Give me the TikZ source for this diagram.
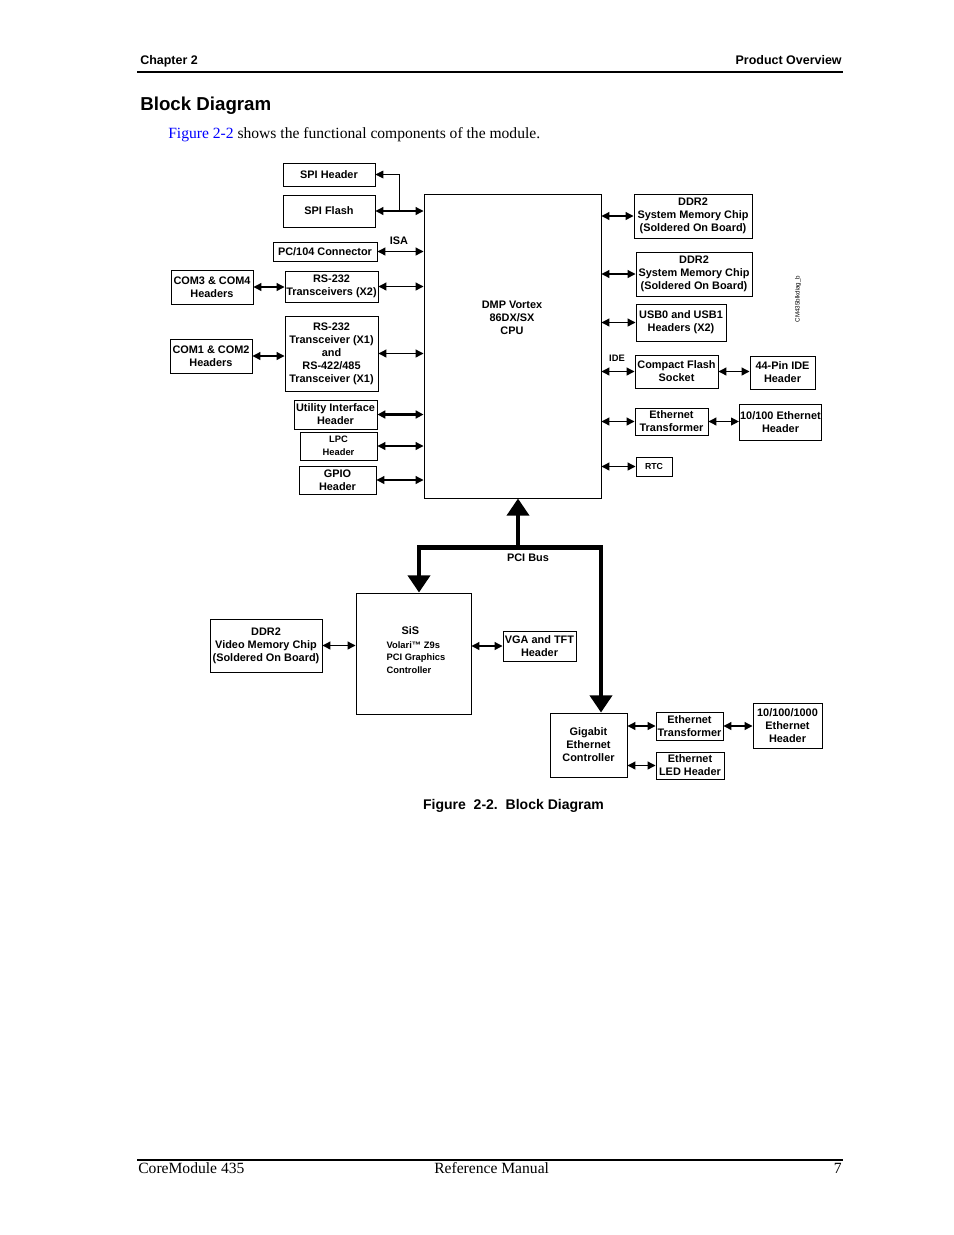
\documentclass[tikz,border=0pt]{standalone}
\usepackage{fontspec}
\setmainfont{Liberation Serif}
\setsansfont{Liberation Sans}
\usetikzlibrary{arrows.meta}
\newdimen\px \px=0.6415pt
\tikzset{
  blk/.style={draw, line width=0.6pt, align=center, inner sep=0.5pt,
    font=\sffamily\bfseries\fontsize{7}{8.3}\selectfont},
  sz/.style 2 args={minimum width=#1\px, minimum height=#2\px},
  lbl/.style={align=center, inner sep=0pt,
    font=\sffamily\bfseries\fontsize{7}{8.3}\selectfont},
  small/.style={font=\sffamily\bfseries\fontsize{6}{8}\selectfont},
  bi/.style={line width=0.75pt,
    {Triangle[length=5pt,width=5pt]}-{Triangle[length=5pt,width=5pt]}},
  pci/.style={line width=3.2pt},
  pcitip/.style={{Triangle[length=11pt,width=14pt]}-{Triangle[length=11pt,width=14pt]}},
  page/.style={inner sep=0pt, font=\fontsize{10}{12}\selectfont},
  hdr/.style={inner sep=0pt, font=\sffamily\bfseries\fontsize{8}{10}\selectfont},
}
\begin{document}
\begin{tikzpicture}[x=0.6415pt, y=-0.6415pt]
\useasboundingbox (0,0) rectangle (954,1235);

\node[hdr, anchor=base west] (chap) at (140,64) {Chapter 2};
\node[hdr, anchor=base east] (part) at (842,64) {Product Overview};
\draw[line width=0.9pt] (137,72) -- (843,72);
\node[inner sep=0pt, anchor=base west, font=\sffamily\bfseries\fontsize{12}{14}\selectfont]
  (title) at (140,110) {Block Diagram};
\node[page, anchor=base west] (intro) at (168,138.5)
  {\textcolor{blue}{Figure 2-2} shows the functional components of the module.};

\node[blk, sz={92}{23}] (spih) at (329,174.5) {SPI Header};
\node[blk, sz={92}{32}] (flash) at (329,211) {SPI Flash};
\node[blk, sz={104}{19}] (pc104) at (325,251.5) {PC/104 Connector};
\node[blk, sz={82}{34}] (com34) at (212,287) {COM3 \& COM4\\Headers};
\node[blk, sz={93}{31}] (rsa) at (331.5,286.5) {RS-232\\Transceivers (X2)};
\node[blk, sz={82}{34}] (com12) at (211,356) {COM1 \& COM2\\Headers};
\node[blk, sz={93}{75}] (rsb) at (331.5,353.5)
  {RS-232\\Transceiver (X1)\\and\\RS-422/485\\Transceiver (X1)};
\node[blk, sz={83}{29}] (util) at (335.5,414.5) {Utility Interface\\Header};
\node[blk, small, sz={77}{28}] (lpc) at (338.5,446) {LPC\\Header};
\node[blk, sz={77}{28}] (gpio) at (337.5,480) {GPIO\\Header};

\node[blk, sz={177}{304}] (cpu) at (512.5,346) {};
\node[lbl] (cputxt) at (512,318) {DMP Vortex\\86DX/SX\\CPU};

\node[blk, sz={118}{44}] (ddra) at (693,216)
  {DDR2\\System Memory Chip\\(Soldered On Board)};
\node[blk, sz={116}{44}] (ddrb) at (694,274)
  {DDR2\\System Memory Chip\\(Soldered On Board)};
\node[blk, sz={90}{37}] (usb) at (681,322.5) {USB0 and USB1\\Headers (X2)};
\node[blk, sz={83}{33}] (cf) at (676.5,371.5) {Compact Flash\\Socket};
\node[blk, sz={65}{33}] (ide) at (782.5,372.5) {44-Pin IDE\\Header};
\node[blk, sz={73}{27}] (etha) at (671.5,421.5) {Ethernet\\Transformer};
\node[blk, sz={81}{36}] (ethh) at (780.5,422) {10/100 Ethernet\\Header};
\node[blk, sz={36}{19}, font=\sffamily\bfseries\fontsize{5.6}{7}\selectfont]
  (rtc) at (654,466.5) {RTC};
\node[inner sep=0pt, rotate=90, font=\sffamily\fontsize{4}{5}\selectfont]
  (fig) at (798,299) {CM435blkdiag\_b};

\node[blk, sz={115}{121}] (sis) at (413.5,653.5) {};
\node[lbl, small, align=left] (sistxt) at (416,650)
  {\hspace*{9.6pt}{\fontsize{7}{8}\selectfont SiS}\\[1pt]Volari™ Z9s\\PCI Graphics\\Controller};
\node[blk, sz={112}{53}] (vmem) at (266,645.5)
  {DDR2\\Video Memory Chip\\(Soldered On Board)};
\node[blk, sz={73}{30}] (vga) at (539.5,646) {VGA and TFT\\Header};
\node[blk, sz={77}{64}] (gbe) at (588.5,745) {Gigabit\\Ethernet\\Controller};
\node[blk, sz={67}{28}] (ethb) at (689.5,726) {Ethernet\\Transformer};
\node[blk, sz={69}{45}] (gig) at (787.5,725.5) {10/100/1000\\Ethernet\\Header};
\node[blk, sz={68}{27}] (led) at (690,765.5) {Ethernet\\LED Header};

\node[lbl] (isa) at (399,241) {ISA};
\node[lbl, small] (idelbl) at (617,358) {IDE};
\node[lbl] (pcilbl) at (528,558) {PCI Bus};

\coordinate (spij) at (399,211);
\draw[line width=0.5pt, {Triangle[length=5pt,width=5pt]}-] (spih.east) -| (spij);
\draw[bi] (flash.east) -- (flash.east -| cpu.west);
\draw[bi] (pc104.east) -- (pc104.east -| cpu.west);
\draw[bi] (com34.east) -- (com34.east -| rsa.west);
\draw[bi] (rsa.east) -- (rsa.east -| cpu.west);
\draw[bi] (com12.east) -- (com12.east -| rsb.west);
\draw[bi] (rsb.east) -- (rsb.east -| cpu.west);
\draw[bi, line width=1.3pt] (util.east) -- (util.east -| cpu.west);
\draw[bi] (lpc.east) -- (lpc.east -| cpu.west);
\draw[bi] (gpio.east) -- (gpio.east -| cpu.west);

\draw[bi] (cpu.east |- ddra.west) -- (ddra.west);
\draw[bi] (cpu.east |- ddrb.west) -- (ddrb.west);
\draw[bi] (cpu.east |- usb.west) -- (usb.west);
\draw[bi] (cpu.east |- cf.west) -- (cf.west);
\draw[bi] (cf.east) -- (cf.east -| ide.west);
\draw[bi] (cpu.east |- etha.west) -- (etha.west);
\draw[bi] (etha.east) -- (etha.east -| ethh.west);
\draw[bi] (cpu.east |- rtc.west) -- (rtc.west);

\draw[bi] (vmem.east) -- (vmem.east -| sis.west);
\draw[bi] (sis.east |- vga.west) -- (vga.west);
\draw[bi] (gbe.east |- ethb.west) -- (ethb.west);
\draw[bi] (ethb.east) -- (ethb.east -| gig.west);
\draw[bi] (gbe.east |- led.west) -- (led.west);

\coordinate (pcil) at (419,547);
\coordinate (pcim) at (518,547);
\coordinate (pcir) at (601,547);
\draw[pci, pcitip] (sis.north -| pcil) -- (pcil) -- (pcir) -- (gbe.north -| pcir);
\draw[pci, -{Triangle[length=11pt,width=14pt]}] (pcim) -- (cpu.south -| pcim);

\node[hdr, anchor=base, font=\sffamily\bfseries\fontsize{9}{11}\selectfont]
  (cap) at (513.5,809) {Figure\ \ 2-2.\ \ Block Diagram};

\draw[line width=0.7pt] (137,1160) -- (843,1160);
\node[page, anchor=base west] (foota) at (138,1173) {CoreModule 435};
\node[page, anchor=base west] (footb) at (434,1173) {Reference Manual};
\node[page, anchor=base east] (footc) at (842,1173) {7};
\end{tikzpicture}
\end{document}
